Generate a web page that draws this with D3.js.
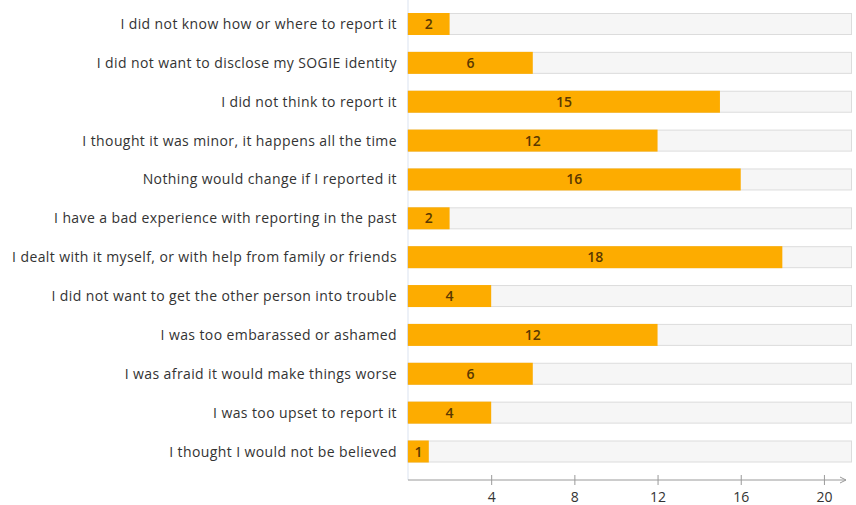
<!DOCTYPE html>
<html>
<head>
<meta charset="utf-8">
<script src="https://cdn.jsdelivr.net/npm/d3@7"></script>
<style>
  body { margin: 0; background: #fff; }
  svg { display: block; }
</style>
</head>
<body>
<div id="chart"></div>
<script>
  "use strict";

  var categories = [
    "I did not know how or where to report it",
    "I did not want to disclose my SOGIE identity",
    "I did not think to report it",
    "I thought it was minor, it happens all the time",
    "Nothing would change if I reported it",
    "I have a bad experience with reporting in the past",
    "I dealt with it myself, or with help from family or friends",
    "I did not want to get the other person into trouble",
    "I was too embarassed or ashamed",
    "I was afraid it would make things worse",
    "I was too upset to report it",
    "I thought I would not be believed"
  ];
  var values = [2, 6, 15, 12, 16, 2, 18, 4, 12, 6, 4, 1];
  var tickValues = [4, 8, 12, 16, 20];

  var width = 856;
  var height = 505;
  var plotLeft = 408;
  var plotRight = 852;
  var axisY = 480;

  var svg = d3.select("#chart").append("svg")
    .attr("width", width)
    .attr("height", height)
    .style("font-family", "'Open Sans', sans-serif");

  var scaleX = d3.scaleLinear()
    .domain([0, 21.35])
    .range([plotLeft, plotRight]);

  var scaleY = d3.scaleBand()
    .domain(categories)
    .range([13, 462.5])
    .paddingInner(0.434)
    .paddingOuter(0);

  // faint vertical axis line
  svg.append("line")
    .attr("x1", plotLeft).attr("x2", plotLeft)
    .attr("y1", 0).attr("y2", axisY)
    .attr("stroke", "#dbe3f0")
    .attr("stroke-width", 1);

  // background tracks
  svg.append("g").selectAll("rect")
    .data(categories)
    .join("rect")
    .attr("x", scaleX(0) - 0.5)
    .attr("y", function(d) { return scaleY(d) + 0.5; })
    .attr("width", scaleX.range()[1] - scaleX(0))
    .attr("height", scaleY.bandwidth() - 1)
    .attr("fill", "#f6f6f6")
    .attr("stroke", "#dcdcdc");

  // value bars
  svg.append("g").selectAll("rect")
    .data(values)
    .join("rect")
    .attr("x", scaleX(0))
    .attr("y", function(d, i) { return scaleY(categories[i]); })
    .attr("width", function(d) { return scaleX(d) - scaleX(0); })
    .attr("height", scaleY.bandwidth())
    .attr("fill", "#fdac00");

  // value labels
  svg.append("g").selectAll("text")
    .data(values)
    .join("text")
    .attr("x", function(d) { return (scaleX(0) + scaleX(d)) / 2; })
    .attr("y", function(d, i) { return scaleY(categories[i]) + scaleY.bandwidth() / 2; })
    .attr("dy", "0.36em")
    .attr("text-anchor", "middle")
    .attr("font-size", 14)
    .attr("font-weight", 600)
    .attr("fill", "#5a3800")
    .text(function(d) { return d; });

  // category labels
  svg.append("g").selectAll("text")
    .data(categories)
    .join("text")
    .attr("x", plotLeft - 11)
    .attr("y", function(d) { return scaleY(d) + scaleY.bandwidth() / 2; })
    .attr("dy", "0.36em")
    .attr("text-anchor", "end")
    .attr("font-size", 14)
    .attr("letter-spacing", 0.4)
    .attr("fill", "#333")
    .text(function(d) { return d; });

  // x axis
  var axis = svg.append("g")
    .attr("transform", "translate(0," + axisY + ")")
    .call(d3.axisBottom(scaleX)
      .tickValues(tickValues)
      .tickSize(5)
      .tickPadding(7)
      .tickFormat(d3.format("d")));

  axis.select(".domain").remove();
  axis.append("line")
    .attr("x1", plotLeft).attr("x2", 846)
    .attr("stroke", "#9a9a9a");
  axis.append("path")
    .attr("d", "M840,-3L846,0L840,3")
    .attr("fill", "none")
    .attr("stroke", "#9a9a9a");
  axis.selectAll(".tick line")
    .attr("y1", -5)
    .attr("stroke", "#9a9a9a");
  axis.selectAll(".tick text")
    .attr("font-family", "'Open Sans', sans-serif")
    .attr("font-size", 14)
    .attr("fill", "#333");
</script>
</body>
</html>
